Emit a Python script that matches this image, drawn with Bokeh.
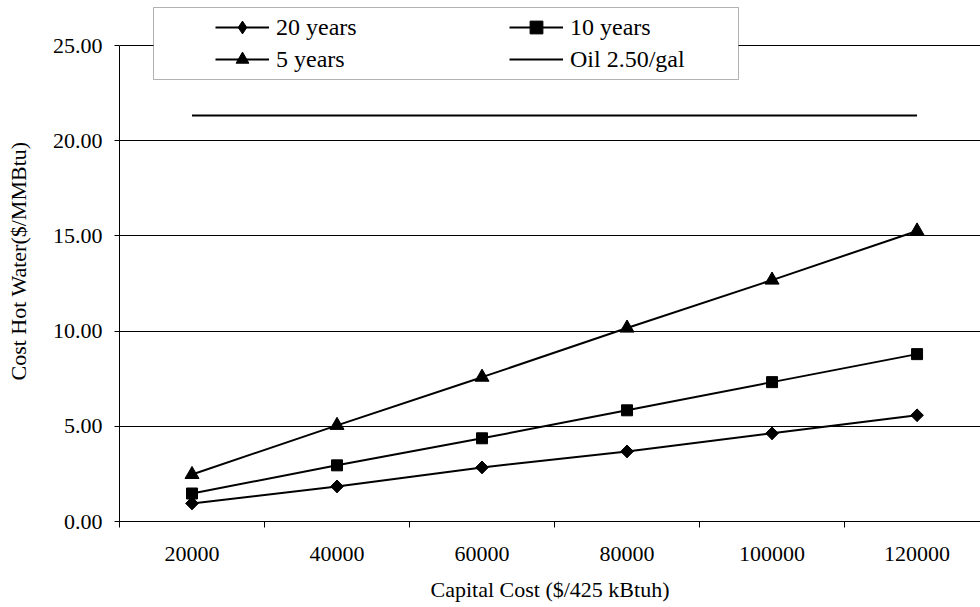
import math
from bokeh.plotting import figure
from bokeh.models import (Range1d, FixedTicker, NumeralTickFormatter, Legend, LegendItem,
                          BoxAnnotation)
from bokeh.embed import file_html
from bokeh.resources import INLINE

# ---- data ----
capital_cost = [20000, 40000, 60000, 80000, 100000, 120000]
years_20 = [0.95, 1.84, 2.84, 3.68, 4.63, 5.58]
years_10 = [1.47, 2.95, 4.37, 5.84, 7.32, 8.79]
years_5 = [2.47, 5.05, 7.58, 10.16, 12.68, 15.26]
oil_250 = [21.32, 21.32, 21.32, 21.32, 21.32, 21.32]
y_ticks = [0, 5, 10, 15, 20, 25]
x_boundaries = [10000, 30000, 50000, 70000, 90000, 110000]

FONT = "Liberation Serif"

# frame spans the full height above the axis; the value axis itself stops at 25
p = figure(width=980, height=607, output_backend="svg", toolbar_location=None,
           x_range=Range1d(10000, 128750), y_range=Range1d(0, 25 + 45 / 19.04),
           min_border_left=119, min_border_right=0, min_border_top=0, min_border_bottom=86)
p.outline_line_color = None
p.background_fill_color = "white"
p.border_fill_color = "white"

# axes
p.xaxis.ticker = FixedTicker(ticks=capital_cost, minor_ticks=x_boundaries)
p.xaxis.formatter = NumeralTickFormatter(format="0")
p.xaxis.major_tick_out = 0
p.xaxis.major_tick_in = 0
p.xaxis.minor_tick_out = 6
p.xaxis.minor_tick_in = 0
p.xaxis.minor_tick_line_color = "black"
p.xaxis.major_label_standoff = 19
p.xaxis.axis_label = "Capital Cost ($/425 kBtuh)"
p.xaxis.axis_label_standoff = 13

p.yaxis.ticker = FixedTicker(ticks=y_ticks)
p.yaxis.bounds = (0, 25)
p.yaxis.formatter = NumeralTickFormatter(format="0.00")
p.yaxis.major_tick_out = 5
p.yaxis.major_tick_in = 0
p.yaxis.minor_tick_line_color = None
p.yaxis.major_label_standoff = 12
p.yaxis.axis_label = "Cost Hot Water($/MMBtu)"
p.yaxis.axis_label_standoff = 19

for ax in (p.xaxis, p.yaxis):
    ax.axis_line_color = "black"
    ax.axis_line_width = 1
    ax.major_tick_line_color = "black"
    ax.major_label_text_font = FONT
    ax.major_label_text_font_size = "22px"
    ax.major_label_text_color = "black"
    ax.axis_label_text_font = FONT
    ax.axis_label_text_font_size = "22px"
    ax.axis_label_text_font_style = "normal"
    ax.axis_label_text_color = "black"

p.xgrid.visible = False
p.ygrid.ticker = FixedTicker(ticks=y_ticks)
p.ygrid.grid_line_color = "black"
p.ygrid.grid_line_width = 1

# series
l20 = p.line(capital_cost, years_20, line_color="black", line_width=2)
# plain diamond (used as the legend swatch; sits inside the rotated square below)
key20 = p.scatter(capital_cost, years_20, marker="diamond", size=12,
                  fill_color="black", line_color="black")
m20 = p.scatter(capital_cost, years_20, marker="square", angle=math.pi / 4, size=9,
                fill_color="black", line_color="black")
l10 = p.line(capital_cost, years_10, line_color="black", line_width=2)
m10 = p.scatter(capital_cost, years_10, marker="square", size=11,
                fill_color="black", line_color="black")
l5 = p.line(capital_cost, years_5, line_color="black", line_width=2)
m5 = p.scatter(capital_cost, years_5, marker="triangle", size=14,
               fill_color="black", line_color="black")
loil = p.line(capital_cost, oil_250, line_color="black", line_width=2)

# legend frame
box = BoxAnnotation(left=153, right=738, top=7, bottom=79,
                    left_units="canvas", right_units="canvas",
                    top_units="canvas", bottom_units="canvas",
                    fill_color="white", fill_alpha=1.0,
                    line_color="black", line_width=1)
p.add_layout(box)

legend = Legend(items=[
    LegendItem(label="20 years", renderers=[l20, key20]),
    LegendItem(label="10 years", renderers=[l10, m10]),
    LegendItem(label="5 years", renderers=[l5, m5]),
    LegendItem(label="Oil 2.50/gal", renderers=[loil]),
], orientation="horizontal", ncols=2, location=(96, 446))
legend.padding = 4
legend.spacing = 0
legend.glyph_width = 54
legend.glyph_height = 32
legend.label_height = 32
legend.label_width = 233
legend.label_standoff = 7
legend.margin = 0
legend.label_text_font = FONT
legend.label_text_font_size = "24px"
legend.label_text_color = "black"
legend.border_line_color = None
legend.background_fill_alpha = 0
p.add_layout(legend, "center")

open("out.html", "w").write(file_html(p, INLINE))
